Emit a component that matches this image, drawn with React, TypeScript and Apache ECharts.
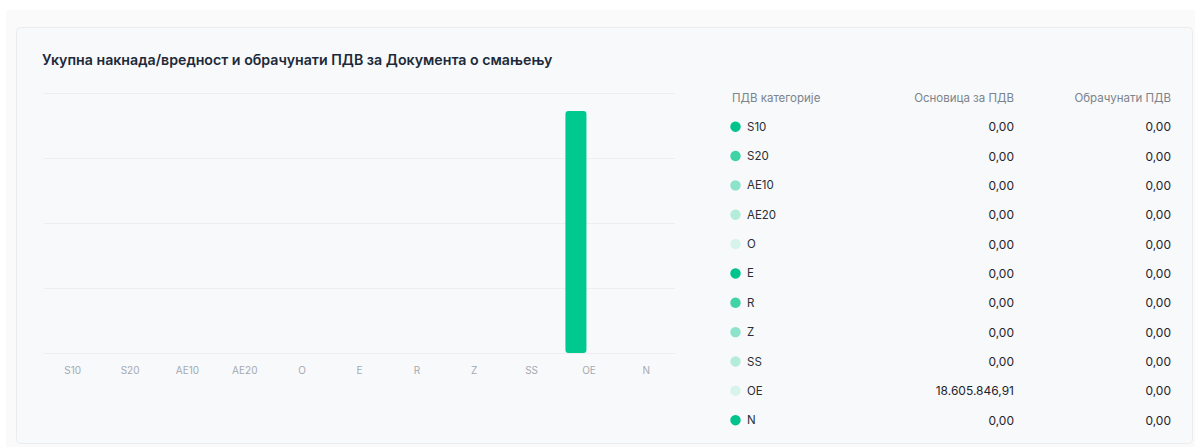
import React, { useEffect, useRef } from "react";
import * as echarts from "echarts";

const categories = ["S10", "S20", "AE10", "AE20", "O", "E", "R", "Z", "SS", "OE", "N"];
const osnovica = [0, 0, 0, 0, 0, 0, 0, 0, 0, 18605846.91, 0];
const obracunati = [0, 0, 0, 0, 0, 0, 0, 0, 0, 0, 0];
const dotColors = ["#00c48c", "#40d3a6", "#8de3c9", "#b4ecda", "#d6f4ea", "#00c48c", "#40d3a6", "#8de3c9", "#b4ecda", "#d6f4ea", "#00c48c"];
const headers = ["ПДВ категорије", "Основица за ПДВ", "Обрачунати ПДВ"];
const title = "Укупна накнада/вредност и обрачунати ПДВ за Документа о смањењу";
const yTicks = { min: 0, max: 20000000, interval: 5000000 };

function fmt(v: number): string {
  const [i, d] = v.toFixed(2).split(".");
  return i.replace(/\B(?=(\d{3})+(?!\d))/g, ".") + "," + d;
}

const FONT = "Inter, 'Noto Sans', sans-serif";

export default function App() {
  const ref = useRef<HTMLDivElement>(null);
  useEffect(() => {
    if (!ref.current) return;
    const chart = echarts.init(ref.current, undefined, { renderer: "svg" });
    const rowY0 = 126.7;
    const rowStep = 29.35;
    const graphics: any[] = [
      { type: "rect", silent: true, z: -10, shape: { x: 6, y: 10, width: 1189, height: 437 }, style: { fill: "#fafafa" } },
      { type: "rect", silent: true, z: -9, shape: { x: 16.5, y: 27.5, width: 1176, height: 416, r: 4 }, style: { fill: "#f8f9fa", stroke: "#ebecee", lineWidth: 1 } },
      { type: "text", x: 42, y: 59, style: { text: title, font: `600 14.2px ${FONT}`, fill: "#1c2a3a", textVerticalAlign: "middle" } },
      { type: "text", x: 732, y: 98, style: { text: headers[0], font: `400 11.5px ${FONT}`, fill: "#7b838c", textVerticalAlign: "middle" } },
      { type: "text", x: 1014, y: 98, style: { text: headers[1], font: `400 11.5px ${FONT}`, fill: "#7b838c", textAlign: "right", textVerticalAlign: "middle" } },
      { type: "text", x: 1171, y: 98, style: { text: headers[2], font: `400 11.5px ${FONT}`, fill: "#7b838c", textAlign: "right", textVerticalAlign: "middle" } },
    ];
    categories.forEach((c, i) => {
      const y = rowY0 + i * rowStep;
      graphics.push({ type: "circle", shape: { cx: 735.5, cy: y, r: 5.2 }, style: { fill: dotColors[i] } });
      graphics.push({ type: "text", x: 747, y, style: { text: c, font: `400 11.5px ${FONT}`, fill: "#2a2f36", textVerticalAlign: "middle" } });
      graphics.push({ type: "text", x: 1014, y, style: { text: fmt(osnovica[i]), font: `400 12px ${FONT}`, fill: "#1f242b", textAlign: "right", textVerticalAlign: "middle" } });
      graphics.push({ type: "text", x: 1171, y, style: { text: fmt(obracunati[i]), font: `400 12px ${FONT}`, fill: "#1f242b", textAlign: "right", textVerticalAlign: "middle" } });
    });
    chart.setOption({
      animation: false,
      backgroundColor: "#ffffff",
      textStyle: { fontFamily: FONT },
      grid: { left: 44, right: 520, top: 93, bottom: 94, containLabel: false },
      xAxis: {
        type: "category",
        data: categories,
        axisLine: { show: true, lineStyle: { color: "#eceef0" } },
        axisTick: { show: false },
        axisLabel: { color: "#a3aab2", fontSize: 10, margin: 12, fontFamily: FONT },
      },
      yAxis: {
        type: "value",
        min: yTicks.min,
        max: yTicks.max,
        interval: yTicks.interval,
        axisLabel: { show: false },
        axisLine: { show: false },
        axisTick: { show: false },
        splitLine: { lineStyle: { color: "#eceef0" } },
      },
      series: [
        { name: headers[1], type: "bar", data: osnovica, barWidth: 21, barGap: "24%", itemStyle: { color: "#00c98f", borderRadius: 3 } },
        { name: headers[2], type: "bar", data: obracunati, barWidth: 21, itemStyle: { color: "#00c98f", borderRadius: 3 } },
      ],
      graphic: graphics,
    });
    return () => chart.dispose();
  }, []);
  return <div ref={ref} style={{ position: "fixed", left: 0, top: 0, width: 1195, height: 447 }} />;
}
